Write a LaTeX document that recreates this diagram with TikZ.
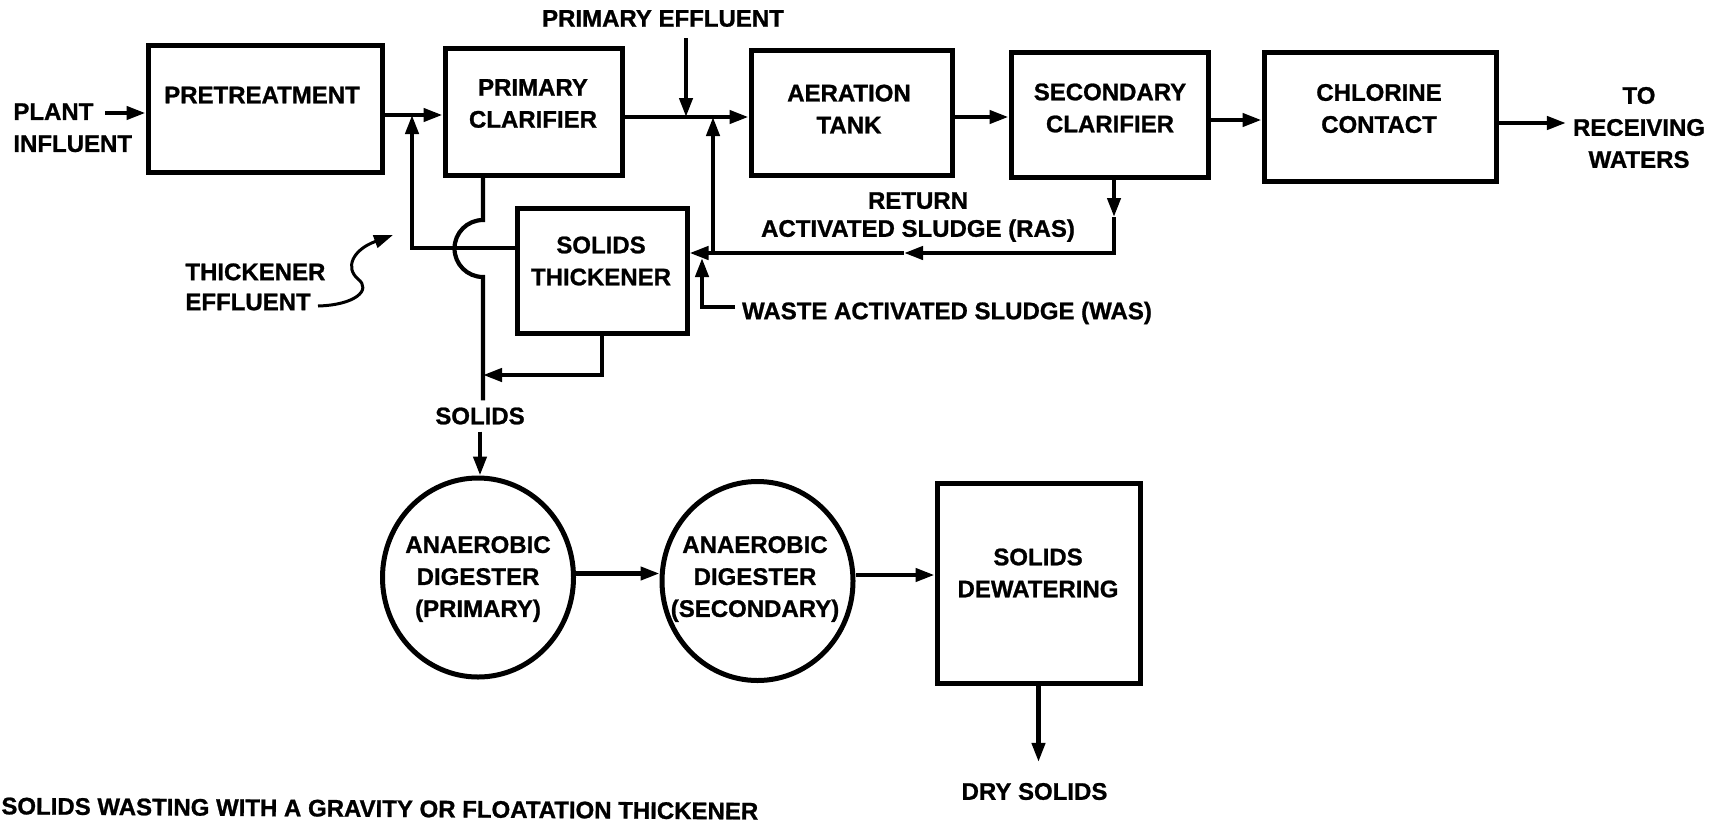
\documentclass[tikz,border=0pt]{standalone}
\usepackage{fontspec}
\setmainfont{Liberation Sans}[BoldFeatures={FakeBold=1}]
\usetikzlibrary{arrows.meta,shapes.geometric}

\begin{document}
\begin{tikzpicture}[x=0.5pt,y=-0.5pt,>={Triangle[length=9.5pt,width=6.5pt]}]
	\tikzstyle{every node} = [font=\fontsize{12}{16}\selectfont\bfseries,align=center];
	\tikzstyle{box} = [draw=black,line width=2.5pt,rectangle,inner sep=0pt];
	\tikzstyle{tank} = [draw=black,line width=2.5pt,ellipse,minimum width=95.5pt,minimum height=99.5pt,inner sep=0pt];
	\tikzstyle{pipe} = [line width=2.1pt];
	\useasboundingbox (0,0) rectangle (1727,825);
	\node[box,minimum width=117pt,minimum height=63.5pt] (1) at (265,108.5) {};
	\node (1t) at (262,95) {PRETREATMENT};
	\node[box,minimum width=88.5pt,minimum height=63.5pt] (2) at (533.5,111.5) {};
	\node (2t) at (533,103.5) {PRIMARY\\CLARIFIER};
	\node[box,minimum width=100.5pt,minimum height=62.5pt] (3) at (851.5,112.5) {};
	\node (3t) at (849,109) {AERATION\\TANK};
	\node[box,minimum width=98.5pt,minimum height=62.5pt] (4) at (1109.5,114.5) {};
	\node (4t) at (1110,108) {SECONDARY\\CLARIFIER};
	\node[box,minimum width=116pt,minimum height=64.5pt] (5) at (1380,116.5) {};
	\node (5t) at (1379,108.5) {CHLORINE\\CONTACT};
	\node[box,minimum width=85pt,minimum height=62.5pt] (6) at (602,270.5) {};
	\node (6t) at (601,261) {SOLIDS\\THICKENER};
	\node[tank] (7) at (478,577.5) {};
	\node (7t) at (478,579) {ANAEROBIC\\DIGESTER\\(PRIMARY)};
	\node[tank] (8) at (757.5,581) {};
	\node (8t) at (755,579) {ANAEROBIC\\DIGESTER\\(SECONDARY)};
	\node[box,minimum width=101.5pt,minimum height=100pt] (9) at (1038.5,583) {};
	\node (9t) at (1038,573) {SOLIDS\\DEWATERING};
	\node[align=left,anchor=north west,inner sep=0pt] (in) at (13,103) {PLANT\\INFLUENT};
	\node (pet) at (663,18.5) {PRIMARY EFFLUENT};
	\node (rw) at (1639,127.5) {TO\\RECEIVING\\WATERS};
	\node (ras) at (918,217) {RETURN\\[-2pt]ACTIVATED SLUDGE (RAS)};
	\node[anchor=west] (was) at (735,313) {WASTE ACTIVATED SLUDGE (WAS)};
	\node[align=left,anchor=north west,inner sep=0pt] (te2) at (185,263) {THICKENER\\[-1pt]EFFLUENT};
	\node (sl) at (480,416) {SOLIDS};
	\node (ds) at (1034.5,791.5) {DRY SOLIDS};
	\node[anchor=west,inner sep=0pt,rotate=-0.4] (cap) at (1,806) {SOLIDS WASTING WITH A GRAVITY OR FLOATATION THICKENER};
	\coordinate (pl) at (105,113);
	\coordinate (j1) at (412,115);
	\coordinate (j2) at (713,117);
	\coordinate (pe) at (686,38);
	\coordinate (te) at (412,248);
	\coordinate (u1) at (483,220);
	\coordinate (u2) at (483,375);
	\coordinate (r1) at (1114,217);
	\coordinate (r2) at (1114,253);
	\coordinate (r3) at (904,253);
	\coordinate (j3) at (713,253);
	\coordinate (w1) at (702,307);
	\coordinate (w2) at (702,258);
	\coordinate (ef) at (318,306);
	\coordinate (tip) at (393,235);
	\draw[pipe,->] (pl) -- (pl -| 1.west);
	\draw[pipe,->] (j1 -| 1.east) -- (j1 -| 2.west);
	\draw[pipe,->] (j2 -| 2.east) -- (j2 -| 3.west);
	\draw[pipe,->] ([yshift=-2.25pt]3.east) -- ([yshift=-2.25pt]3.east -| 4.west);
	\draw[pipe,->] ([yshift=-2.75pt]4.east) -- ([yshift=-2.75pt]4.east -| 5.west);
	\draw[pipe,->] ([yshift=-3.25pt]5.east) -- ([yshift=-3.25pt]5.east -| rw.west);
	\draw[pipe,->] (pe) -- (pe |- j2);
	\draw[pipe,->] (te -| 6.west) -- (te) -- (j1);
	\draw[pipe] (u1 |- 2.south) -- (u1) arc[start angle=90,end angle=270,radius=14.25pt] -- (u1 |- sl.north);
	\draw[pipe,->] (sl.south) -- (sl.south |- 7.north);
	\draw[pipe,->] (6.south) -- (6.south |- u2) -- (u2);
	\draw[pipe,->] (r1 |- 4.south) -- (r1);
	\draw[pipe,->] (r1) -- (r2) -- (r3);
	\draw[pipe,->] (r3) -- (r3 -| 6.east);
	\draw[pipe,->] (j3) -- (j2);
	\draw[pipe,->] (was.west |- w1) -- (w1) -- (w2);
	\draw[->,line width=1.5pt] (ef) .. controls (355,305) and (372,290) .. (358,279) .. controls (345,268) and (352,250) .. (tip);
	\draw[pipe,->] ([yshift=2pt]7.east) -- ([yshift=2pt]7.east -| 8.west);
	\draw[pipe,->] ([yshift=3pt]8.east) -- ([yshift=3pt]8.east -| 9.west);
	\draw[pipe,->] (9.south) -- ([yshift=7pt]9.south |- ds.north);
\end{tikzpicture}
\end{document}
